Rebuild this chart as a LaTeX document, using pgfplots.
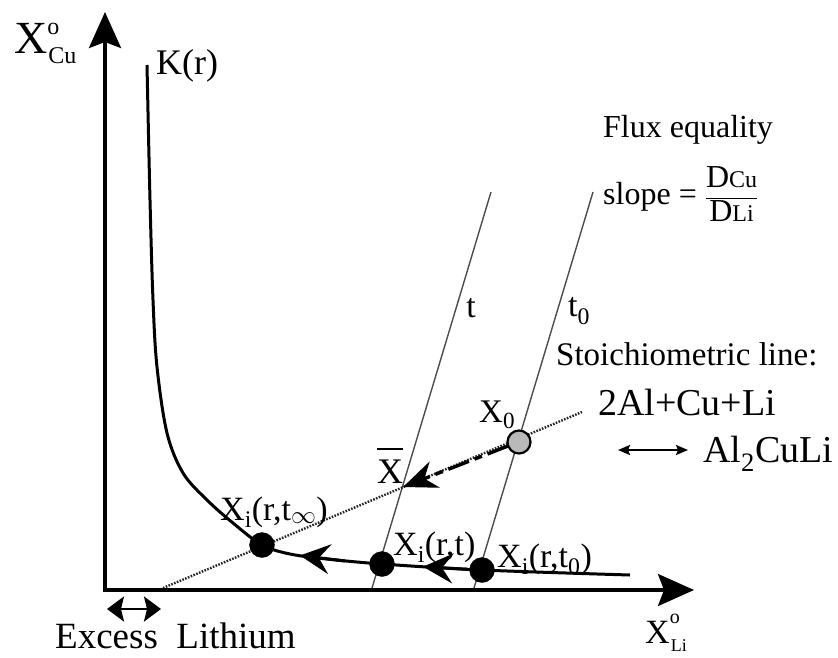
\documentclass[border=0pt]{standalone}
\usepackage{fontspec}
\setmainfont{Liberation Serif}
\usepackage{pgfplots}
\pgfplotsset{compat=1.18}
\usetikzlibrary{arrows.meta}

\newcommand{\fs}[1]{\fontsize{#1}{#1}\selectfont}

\begin{document}
\begin{tikzpicture}
\begin{axis}[
  name=ax,
  width=838pt, height=657pt, scale only axis,
  hide axis,
  xmin=0, xmax=838, ymin=0, ymax=657,
  y dir=reverse,   % coordinates are read in picture pixels
  clip=false,
]
% time lines t and t0
\addplot[gray!60!black, line width=1.4pt] coordinates {(372,588) (491,192)};
\addplot[gray!60!black, line width=1.4pt] coordinates {(474,588) (593,192)};

% stoichiometric line
\addplot[black!85, line width=2.4pt, dash pattern=on 1.6pt off 1.4pt] coordinates {(163,588) (582,412)};

% K(r)
\addplot[black, line width=3pt, smooth, tension=0.55] coordinates {
  (147,65) (150,200) (153,300) (157,367) (167,433) (183,473) (207,500)
  (233,523) (262,545) (290,554) (327,559) (382,564) (482,570) (630,575)
};
% arrow heads on K(r)
\addplot[black, line width=3pt, -{Stealth[length=30pt,width=30pt,inset=11pt]}] coordinates {(345,561) (300,555.5)};
\addplot[black, line width=3pt, -{Stealth[length=30pt,width=30pt,inset=11pt]}] coordinates {(468,569.3) (423,566.7)};

% X0 -> Xbar
\addplot[black, line width=3.4pt, dash pattern=on 22pt off 6pt on 8pt off 6pt,
  -{Stealth[length=34pt,width=28pt,inset=11pt]}] coordinates {(508,446) (403,487)};

% axes
\addplot[black, line width=3.2pt, -{Stealth[length=36pt,width=32pt,inset=6pt]}] coordinates {(105,591.6) (105,12)};
\addplot[black, line width=3.2pt, -{Stealth[length=36pt,width=32pt,inset=6pt]}] coordinates {(103.4,590) (694,590)};

% double arrows
\addplot[black, line width=2.6pt, {Stealth[length=17pt,width=25pt,inset=3pt]}-{Stealth[length=17pt,width=25pt,inset=3pt]}] coordinates {(107,609) (161,609)};
\addplot[black, line width=2pt, {Stealth[length=12pt,width=10pt,inset=2pt]}-{Stealth[length=12pt,width=10pt,inset=2pt]}] coordinates {(618,450) (688,450)};

% points
\addplot[only marks, mark=*, mark size=12.5pt, black] coordinates {(262,545) (382,564) (482,570)};
\addplot[only marks, mark=*, mark size=11.5pt, mark options={fill=gray!55, draw=black, line width=2.2pt}] coordinates {(519,442)};

% labels
\node[anchor=base west, font=\fs{46}, inner sep=0pt] at (axis cs:14,53)
  {X\rlap{\raisebox{19pt}{\fs{24}o}}\hspace{1pt}\raisebox{-10pt}{\fs{24}Cu}};
\node[anchor=base west, font=\fs{34}, inner sep=0pt] at (axis cs:645,643)
  {X\rlap{\raisebox{20pt}{\fs{20}o}}\hspace{1pt}\raisebox{-8pt}{\fs{18}Li}};
\node[anchor=base west, font=\fs{36}, inner sep=0pt] at (axis cs:156,74) {K(r)};
\node[anchor=base west, font=\fs{32}, inner sep=0pt] at (axis cs:603,137) {Flux equality};
\node[anchor=west, font=\fs{32}, inner sep=0pt] at (axis cs:603,194)
  {slope = $\displaystyle\frac{\hbox{D{\fs{24}Cu}}}{\hbox{D{\fs{24}Li}}}$};
\node[font=\fs{34}, inner sep=0pt] at (axis cs:471,308) {t};
\node[font=\fs{34}, inner sep=0pt] at (axis cs:579,311) {t\textsubscript{0}};
\node[anchor=base west, font=\fs{33}, inner sep=0pt] at (axis cs:556,365) {Stoichiometric line:};
\node[anchor=base west, font=\fs{38}, inner sep=0pt] at (axis cs:598,415) {2Al+Cu+Li};
\node[anchor=base west, font=\fs{38}, inner sep=0pt] at (axis cs:703,462) {Al\textsubscript{2}CuLi};
\node[anchor=base west, font=\fs{33}, inner sep=0pt] at (axis cs:479,422) {X\textsubscript{0}};
\node[anchor=base west, font=\fs{36}, inner sep=0pt] at (axis cs:377,483)
  {X\llap{\raisebox{33pt}{\rule{26pt}{2pt}}}};
\node[anchor=base west, font=\fs{34}, inner sep=0pt] at (axis cs:220,520) {X\textsubscript{i}(r,t\textsubscript{$\infty$})};
\node[anchor=base west, font=\fs{34}, inner sep=0pt] at (axis cs:393,555) {X\textsubscript{i}(r,t)};
\node[anchor=base west, font=\fs{34}, inner sep=0pt] at (axis cs:497,567) {X\textsubscript{i}(r,t\textsubscript{0})};
\node[anchor=base west, font=\fs{37}, inner sep=0pt] at (axis cs:55,648) {Excess\ \ Lithium};
\end{axis}
\pgfresetboundingbox
\path (ax.south west) rectangle (ax.north east);
\end{tikzpicture}
\end{document}
